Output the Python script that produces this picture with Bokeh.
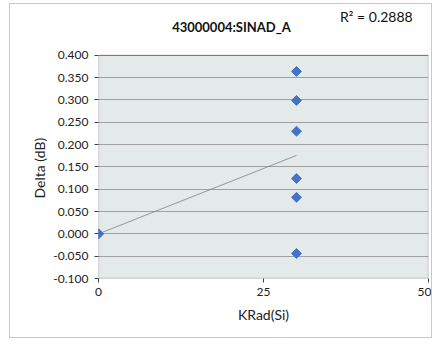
import numpy as np
from bokeh.plotting import figure
from bokeh.models import FixedTicker, NumeralTickFormatter, Title, Range1d, Label, BoxAnnotation
from bokeh.embed import file_html
from bokeh.resources import INLINE

title_text = "43000004:SINAD_A"
r2_text = "R\u00b2 = 0.2888"
x_label = "KRad(Si)"
y_label = "Delta (dB)"

krad = [0, 0, 30, 30, 30, 30, 30, 30]
delta = [0.000, 0.000, 0.364, 0.299, 0.230, 0.124, 0.082, -0.044]

x_ticks = [0, 25, 50]
y_ticks = [-0.100, -0.050, 0.000, 0.050, 0.100, 0.150, 0.200, 0.250, 0.300, 0.350, 0.400]
x_min, x_max = 0, 50
y_min, y_max = -0.100, 0.400
y_canvas_top = 0.514  # extra room above the plot area for title texts

FONT = "Lato"

p = figure(frame_width=330, frame_height=274, output_backend="svg", toolbar_location=None,
           x_range=Range1d(x_min, x_max), y_range=Range1d(y_min, y_canvas_top),
           min_border_left=88, min_border_right=3, min_border_top=0, min_border_bottom=59)
p.styles = {"border": "1px solid #c8c8c8", "margin-left": "9px", "margin-top": "3px"}
p.background_fill_color = "white"
p.border_fill_color = "white"
p.outline_line_color = None

# plot-area background and border
p.add_layout(BoxAnnotation(left=x_min, right=x_max, bottom=y_min, top=y_max,
                           fill_color="#e4eaea", fill_alpha=1, line_color=None, level="image"))

p.xgrid.grid_line_color = None
p.ygrid.grid_line_color = "#a0a0a0"
p.ygrid.grid_line_width = 1

p.add_layout(BoxAnnotation(left=x_min, right=x_max, bottom=y_min, top=y_max,
                           fill_alpha=0, line_color="#202020", line_width=1.3, level="underlay"))

p.xaxis.ticker = FixedTicker(ticks=x_ticks)
p.yaxis.ticker = FixedTicker(ticks=y_ticks)
p.yaxis.formatter = NumeralTickFormatter(format="0.000")
for ax in (p.xaxis, p.yaxis):
    ax.axis_line_color = None
    ax.major_tick_line_color = "#404040"
    ax.major_tick_in = 0
    ax.major_tick_out = 4
    ax.minor_tick_line_color = None
    ax.major_label_text_font = FONT
    ax.major_label_text_font_size = "12px"
    ax.major_label_text_color = "#222222"
    ax.axis_label_text_font = FONT
    ax.axis_label_text_font_size = "14px"
    ax.axis_label_text_font_style = "normal"
    ax.axis_label_text_color = "#222222"
p.xaxis.axis_label = x_label
p.xaxis.major_label_standoff = 5
p.xaxis.axis_label_standoff = 7
p.yaxis.major_label_standoff = 6

p.add_layout(Title(text=y_label, align="left", offset=80, text_font=FONT,
                   text_font_size="14px", text_font_style="normal", text_color="#222222",
                   standoff=5), "left")

# linear trendline from data
xs = np.array(krad, dtype=float)
ys = np.array(delta, dtype=float)
m, b = np.polyfit(xs, ys, 1)
tx = [xs.min(), xs.max()]
p.line(tx, [m * v + b for v in tx], line_color="#808080", line_width=0.8)

p.scatter(krad, delta, marker="square", angle=np.pi / 4, size=7,
          fill_color="#4472c4", line_color="#4472c4")

p.add_layout(Label(x=20.15, y=0.4628, text=title_text, text_font=FONT, text_font_size="13px",
                   text_font_style="bold", text_align="center", text_baseline="middle",
                   text_color="#111111"))
p.add_layout(Label(x=36.6, y=0.4874, text=r2_text, text_font=FONT, text_font_size="14px",
                   text_align="left", text_baseline="middle", text_color="#111111"))

open("out.html", "w").write(file_html(p, INLINE))
